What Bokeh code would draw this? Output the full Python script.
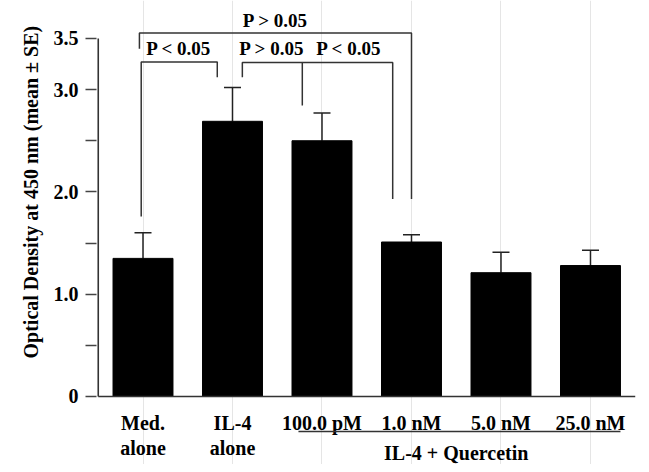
from bokeh.plotting import figure
from bokeh.models import (Range1d, FixedTicker, ColumnDataSource, Whisker, TeeHead, Title)
from bokeh.core.properties import value
from bokeh.embed import file_html
from bokeh.resources import INLINE

# ---- data ----
x_labels = ["Med.\nalone", "IL-4\nalone", "100.0 pM", "1.0 nM", "5.0 nM", "25.0 nM"]
means = [1.35, 2.69, 2.50, 1.51, 1.21, 1.28]
se = [0.25, 0.33, 0.27, 0.07, 0.20, 0.15]
group_label = "IL-4 + Quercetin"
group_members = [2, 3, 4, 5]
y_ticks = [0, 0.5, 1.0, 1.5, 2.0, 2.5, 3.0, 3.5]
y_tick_labels = ["0", "", "1.0", "", "2.0", "", "3.0", "3.5"]
y_title = "Optical Density at 450 nm (mean \u00b1 SE)"
p_labels = ["P > 0.05", "P < 0.05", "P > 0.05", "P < 0.05"]

# ---- layout constants ----
FONT = value("Liberation Serif")
INK = "#000000"
LINE = "#333333"
BAR_W = 0.67

# brackets: (x_left, x_right, y_top, y_left_end, y_right_end)
brackets = [
    (-0.04, 3.00, 3.554, 3.40, 1.93),
    (-0.02, 0.83, 3.27, 1.76, 3.12),
    (1.11, 1.78, 3.265, 3.12, 2.845),
    (1.78, 2.79, 3.265, 3.265, 1.93),
]
p_label_pos = [(1.48, 3.676), (0.40, 3.40), (1.44, 3.40), (2.30, 3.40)]

p = figure(width=641, height=464, output_backend="svg", toolbar_location=None,
           x_range=Range1d(-0.5196, 5.570), y_range=Range1d(-0.665, 3.871),
           x_axis_location=None, min_border_left=96, min_border_right=0,
           min_border_top=0, min_border_bottom=0)
p.outline_line_color = None
p.ygrid.grid_line_color = None
p.background_fill_color = "white"

xs = list(range(len(means)))
tops = [m + s for m, s in zip(means, se)]
src = ColumnDataSource(dict(x=xs, mean=means, top=tops))

# bars
p.vbar(x="x", top="mean", bottom=0, width=BAR_W, source=src,
       fill_color=INK, line_color=INK)

# error bars (upper only)
w = Whisker(base="x", lower="mean", upper="top", source=src, lower_head=None,
            upper_head=TeeHead(size=17, line_width=1.5, line_color="#222222"),
            line_width=1.5, line_color="#222222")
p.add_layout(w)

# axis lines
p.segment(x0=[-0.5], y0=[0], x1=[-0.5], y1=[3.5], line_color=LINE, line_width=1.6)
p.segment(x0=[-0.5], y0=[0], x1=[5.5], y1=[0], line_color=LINE, line_width=1.6)

# y axis
ax = p.yaxis[0]
ax.ticker = FixedTicker(ticks=y_ticks)
ax.major_label_overrides = {t: l for t, l in zip(y_ticks, y_tick_labels)}
ax.axis_line_color = None
ax.minor_tick_line_color = None
ax.major_tick_in = 0
ax.major_tick_out = 11
ax.major_tick_line_color = "#444444"
ax.major_tick_line_width = 1.3
ax.major_label_standoff = 7
ax.major_label_text_font = "Liberation Serif"
ax.major_label_text_font_style = "bold"
ax.major_label_text_font_size = "20px"
ax.major_label_text_color = INK

# y title
p.add_layout(Title(text=y_title, align="left", offset=106, standoff=17,
                   text_font="Liberation Serif", text_font_style="bold",
                   text_font_size="20px", text_color=INK), "left")

# x tick labels (two lines)
line1 = [l.split("\n")[0] for l in x_labels]
line2 = [l.split("\n")[1] if "\n" in l else "" for l in x_labels]
p.text(x=xs, y=[-0.264] * len(xs), text=line1, text_align="center",
       text_baseline="alphabetic", text_font=FONT, text_font_style="bold",
       text_font_size="20px", text_color=INK)
p.text(x=xs, y=[-0.499] * len(xs), text=line2, text_align="center",
       text_baseline="alphabetic", text_font=FONT, text_font_style="bold",
       text_font_size="20px", text_color=INK)

# group underline and label
g0, g1 = min(group_members), max(group_members)
p.segment(x0=[g0 - 0.263], y0=[-0.342], x1=[g1 + 0.335], y1=[-0.342],
          line_color=LINE, line_width=1.6)
p.text(x=[(g0 + g1) / 2], y=[-0.557], text=[group_label], text_align="center",
       text_baseline="alphabetic", text_font=FONT, text_font_style="bold",
       text_font_size="20px", text_color=INK)

# significance brackets
bxs, bys = [], []
for (xl, xr, yt, yl, yr) in brackets:
    bxs.append([xl, xl, xr, xr])
    bys.append([yl, yt, yt, yr])
p.multi_line(xs=bxs, ys=bys, line_color=LINE, line_width=1.5)
p.text(x=[a for a, b in p_label_pos], y=[b for a, b in p_label_pos], text=p_labels,
       text_align="center", text_baseline="middle", text_font=FONT,
       text_font_style="bold", text_font_size="19px", text_color=INK)

open("out.html", "w").write(file_html(p, INLINE))
